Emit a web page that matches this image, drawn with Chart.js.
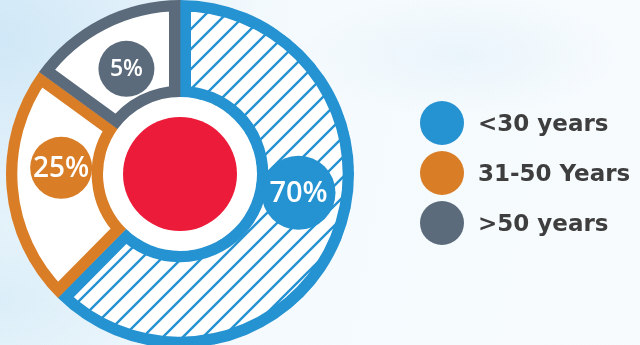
<!DOCTYPE html>
<html>
<head>
<meta charset="utf-8">
<script src="https://cdn.jsdelivr.net/npm/chart.js@4/dist/chart.umd.min.js"></script>
<style>
  html, body { margin: 0; padding: 0; width: 640px; height: 345px; overflow: hidden; }
  body {
    background:
      radial-gradient(ellipse 260px 200px at 0px 40px, rgba(205,230,246,0.9), rgba(205,230,246,0) 100%),
      radial-gradient(ellipse 200px 120px at 0px 300px, rgba(215,236,248,0.8), rgba(215,236,248,0) 100%),
      radial-gradient(ellipse 160px 60px at 460px 55px, rgba(222,239,249,0.5), rgba(222,239,249,0) 100%),
      linear-gradient(100deg, #eaf5fb 0%, #f4fafd 45%, #f7fbfe 100%);
  }
  #wrap { position: absolute; left: 0; top: 0; width: 640px; height: 348px; }
  #legend { position: absolute; left: 420px; top: 98px; font-family: "DejaVu Sans", sans-serif; font-weight: bold; font-size: 23px; color: #3e3e3e; }
  .item { display: flex; align-items: center; height: 50px; }
  .dot { width: 44px; height: 44px; border-radius: 50%; margin-right: 14px; flex: none; }
</style>
</head>
<body>
<div id="wrap"><canvas id="c"></canvas></div>
<div id="legend"></div>
<script>
// Data
const categories = ['<30 years', '31-50 Years', '>50 years'];
const percentLabels = ['70%', '25%', '5%'];
// Slice sizes as drawn in the picture (share of the full circle, %)
const sliceShares = [62.4, 22.6, 15.0];
const colors = ['#2592D1', '#D97E27', '#5B6B7B'];

// Hatch pattern for the first slice
function hatch(color) {
  const s = 20;
  const c = document.createElement('canvas');
  c.width = s; c.height = s;
  const g = c.getContext('2d');
  g.fillStyle = '#ffffff';
  g.fillRect(0, 0, s, s);
  g.strokeStyle = color;
  g.lineWidth = 2.4;
  g.beginPath();
  g.moveTo(-2, s + 2); g.lineTo(s + 2, -2);
  g.moveTo(-2 - s, s + 2); g.lineTo(2, -2);
  g.moveTo(s - 2, s + 2); g.lineTo(2 * s + 2, -2);
  g.stroke();
  return g.createPattern(c, 'repeat');
}

const centerPlugin = {
  id: 'centerDisc',
  beforeDatasetsDraw(chart) {
    const arc = chart.getDatasetMeta(0).data[0];
    if (!arc) return;
    const ctx = chart.ctx;
    ctx.save();
    ctx.fillStyle = '#ffffff';
    ctx.beginPath();
    ctx.arc(arc.x, arc.y, arc.innerRadius + 1, 0, Math.PI * 2);
    ctx.fill();
    ctx.restore();
  },
  afterDatasetsDraw(chart, args, opts) {
    const meta = chart.getDatasetMeta(0);
    const arc = meta.data[0];
    if (!arc) return;
    const ctx = chart.ctx;
    const cx = arc.x, cy = arc.y;
    ctx.save();
    ctx.fillStyle = opts.coreColor;
    ctx.beginPath();
    ctx.arc(cx, cy, opts.coreRadius, 0, Math.PI * 2);
    ctx.fill();
    // label badges
    percentLabels.forEach((txt, i) => {
      const b = opts.badges[i];
      const a = b.bearing * Math.PI / 180;
      const x = cx + b.dist * Math.sin(a);
      const y = cy - b.dist * Math.cos(a);
      ctx.fillStyle = colors[i];
      ctx.beginPath();
      ctx.arc(x, y, b.r, 0, Math.PI * 2);
      ctx.fill();
      ctx.fillStyle = '#ffffff';
      ctx.font = '600 ' + b.size + 'px "Open Sans", sans-serif';
      ctx.textAlign = 'center';
      ctx.textBaseline = 'middle';
      ctx.fillText(txt, x, y + 1);
    });
    ctx.restore();
  }
};

new Chart(document.getElementById('c'), {
  type: 'doughnut',
  data: {
    labels: categories,
    datasets: [{
      data: sliceShares,
      backgroundColor: [hatch(colors[0]), '#ffffff', '#ffffff'],
      borderColor: colors,
      borderWidth: 11,
      borderAlign: 'inner',
      borderJoinStyle: 'miter',
      hoverOffset: 0,
      offset: 0
    }]
  },
  options: {
    responsive: true,
    maintainAspectRatio: false,
    animation: false,
    cutout: 77,
    layout: { padding: { left: 6, right: 286, top: 0, bottom: 0 } },
    plugins: {
      legend: { display: false },
      tooltip: { enabled: false },
      centerDisc: {
        coreColor: '#ED1B3A',
        coreRadius: 57,
        badges: [
          { bearing: 99, dist: 120, r: 37, size: 29 },
          { bearing: 273, dist: 119, r: 31, size: 28 },
          { bearing: 333, dist: 118, r: 28, size: 23 }
        ]
      }
    }
  },
  plugins: [centerPlugin]
});

// HTML legend built from the same arrays
const lg = document.getElementById('legend');
categories.forEach((name, i) => {
  const it = document.createElement('div');
  it.className = 'item';
  const d = document.createElement('span');
  d.className = 'dot';
  d.style.background = colors[i];
  const t = document.createElement('span');
  t.textContent = name;
  it.appendChild(d); it.appendChild(t);
  lg.appendChild(it);
});
</script>
</body>
</html>
